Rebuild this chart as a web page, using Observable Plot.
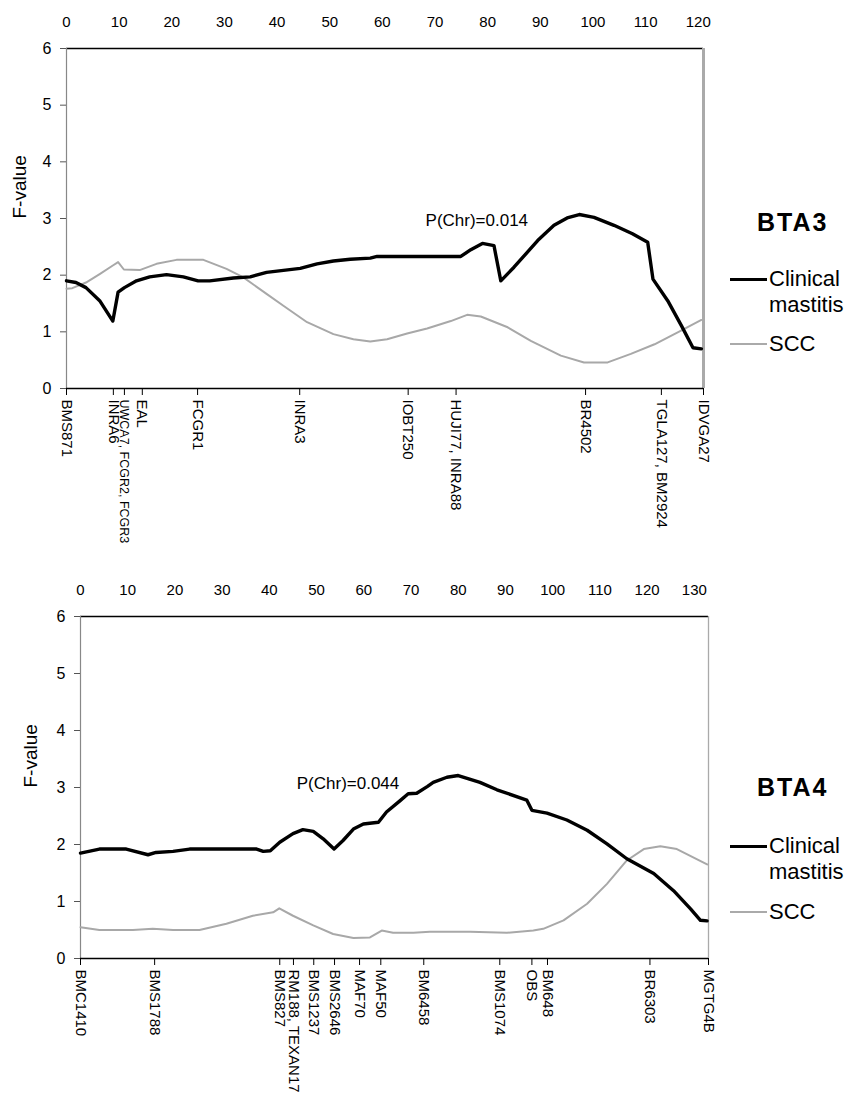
<!DOCTYPE html>
<html><head><meta charset="utf-8">
<script src="https://cdn.jsdelivr.net/npm/d3@7"></script>
<script src="https://cdn.jsdelivr.net/npm/@observablehq/plot@0.6"></script>
<style>
body{margin:0;background:#fff;font-family:"Liberation Sans",Arial,sans-serif;}
#wrap{position:relative;width:855px;height:1105px;overflow:hidden;}
.panel{position:absolute;left:0;width:855px;}
.panel svg{overflow:visible;}
.lg{position:absolute;color:#000;white-space:nowrap;}
.bta{font-weight:bold;font-size:25px;line-height:30px;letter-spacing:2px;}
.lt{font-size:22px;line-height:26px;}
</style></head><body><div id="wrap"></div>
<script>
// ---------- BTA3 ----------
const bta3MarkerPos = [0, 8.9, 11.0, 14.4, 24.9, 44.3, 64.9, 74.0, 98.6, 113.0, 121.0];
const bta3MarkerNames = ["BMS871", "INRA6", "UWCA7, FCGR2, FCGR3", "EAL", "FCGR1", "INRA3", "IOBT250", "HUJI77, INRA88", "BR4502", "TGLA127, BM2924", "IDVGA27"];
const bta3TopTicks = [0, 10, 20, 30, 40, 50, 60, 70, 80, 90, 100, 110, 120];
const bta3Clinical = [[0,1.90],[1.8,1.87],[3.7,1.78],[6.3,1.55],[8.8,1.19],[9.8,1.70],[11.0,1.78],[13.3,1.90],[15.8,1.97],[19,2.01],[22.2,1.97],[25,1.90],[27.2,1.90],[31.7,1.95],[34.9,1.97],[38,2.05],[44.4,2.12],[47.6,2.20],[50.7,2.25],[53.9,2.28],[57.7,2.30],[59,2.33],[74.9,2.33],[76.8,2.45],[79,2.56],[81.2,2.52],[82.5,1.90],[85,2.14],[89.5,2.61],[92.6,2.88],[95.1,3.01],[97.4,3.07],[100.2,3.02],[104,2.88],[107.5,2.73],[110.4,2.58],[111.4,1.93],[114.2,1.55],[116.8,1.11],[119,0.72],[120.6,0.70]];
const bta3Scc = [[0,1.76],[1.1,1.77],[3.7,1.87],[6.3,2.02],[8.8,2.17],[9.8,2.23],[10.9,2.10],[13.9,2.09],[17.1,2.20],[20.9,2.27],[26,2.27],[30.4,2.11],[33.6,1.96],[38,1.67],[41.2,1.46],[45.7,1.17],[50.7,0.96],[54.5,0.87],[57.7,0.83],[60.9,0.87],[64.7,0.97],[68.5,1.06],[73,1.19],[76.1,1.30],[78.7,1.27],[83.8,1.08],[88.2,0.84],[93.9,0.58],[98.3,0.46],[102.8,0.46],[107.2,0.61],[111.7,0.78],[116.1,0.99],[120.6,1.21]];
const bta3Note = [{x: 68.2, y: 2.96, text: "P(Chr)=0.014"}];

// ---------- BTA4 ----------
const bta4MarkerPos = [0, 15.7, 42.2, 45.1, 49.4, 53.8, 59.1, 63.6, 72.7, 88.8, 95.6, 98.9, 120.6, 133];
const bta4MarkerNames = ["BMC1410", "BMS1788", "BMS827", "RM188, TEXAN17", "BMS1237", "BMS2646", "MAF70", "MAF50", "BM6458", "BMS1074", "OBS", "BM648", "BR6303", "MGTG4B"];
const bta4TopTicks = [0, 10, 20, 30, 40, 50, 60, 70, 80, 90, 100, 110, 120, 130];
const bta4Clinical = [[0,1.85],[4,1.92],[9.7,1.92],[14.3,1.82],[16,1.86],[19.6,1.88],[23.1,1.92],[37.3,1.92],[38.7,1.88],[40.2,1.89],[42.2,2.04],[45,2.19],[47.1,2.26],[49.3,2.23],[51.4,2.10],[53.7,1.92],[55.6,2.07],[57.8,2.27],[59.9,2.36],[63.1,2.39],[64.8,2.57],[67.7,2.77],[69.4,2.89],[71.2,2.90],[73.5,3.02],[74.7,3.09],[77.6,3.18],[80,3.21],[84.6,3.09],[88.2,2.96],[94.5,2.78],[95.6,2.60],[98.8,2.55],[103,2.43],[107.3,2.25],[111.5,2.01],[115.7,1.75],[121.4,1.49],[125.6,1.19],[129.2,0.87],[131.3,0.67],[132.7,0.66]];
const bta4Scc = [[0,0.55],[4,0.50],[11.1,0.50],[15.3,0.52],[19.6,0.50],[25.2,0.50],[30.9,0.61],[36.5,0.75],[40.8,0.81],[42.1,0.88],[45,0.75],[49.3,0.58],[53.5,0.43],[57.8,0.36],[61.3,0.37],[63.8,0.49],[66.2,0.45],[70.5,0.45],[74,0.47],[82.5,0.47],[90.3,0.45],[95.9,0.49],[98,0.52],[102.3,0.67],[107.3,0.96],[111.5,1.31],[115.7,1.72],[119.3,1.92],[122.8,1.97],[126.3,1.92],[132.7,1.65]];
const bta4Note = [{x: 45.8, y: 3.07, text: "P(Chr)=0.044"}];

const yTicks = [0, 1, 2, 3, 4, 5, 6];
const seriesNames = ["Clinical mastitis", "SCC"];

function toRows(arr) { return arr.map(([x, y]) => ({x, y})); }

function makeChart(o) {
  const nameOf = new Map(o.pos.map((p, i) => [p, o.names[i]]));
  return Plot.plot({
    width: 855,
    height: o.height,
    marginTop: 48,
    marginBottom: o.marginBottom,
    marginLeft: o.marginLeft,
    marginRight: o.marginRight,
    style: {fontFamily: '"Liberation Sans", Arial, sans-serif', fontSize: "15px", color: "#000", background: "#fff", overflow: "visible"},
    x: {domain: [0, o.xMax]},
    y: {domain: [0, 6]},
    marks: [
      Plot.ruleY([6], {stroke: "#000", strokeWidth: 1.3}),
      Plot.ruleX([0], {stroke: "#888", strokeWidth: 1.2}),
      Plot.ruleX([o.xMax], {stroke: "#aaa", strokeWidth: o.rightW}),
      Plot.axisX({anchor: "top", ticks: o.topTicks, tickSize: 0, tickPadding: 22, fontSize: 15, label: null}),
      Plot.axisX({anchor: "bottom", ticks: o.pos, tickFormat: d => nameOf.get(d), tickRotate: 90, tickSize: 7, tickPadding: 4,
        fontSize: d => (nameOf.get(d).length > 15 ? 12.5 : 15), label: null}),
      Plot.axisY({ticks: yTicks, tickFormat: "d", tickSize: 6, tickPadding: 9, fontSize: 16, stroke: "#555", label: null}),
      Plot.text(["F-value"], {frameAnchor: "left", rotate: -90, dx: o.labelDx, fontSize: 19}),
      Plot.line(toRows(o.scc), {x: "x", y: "y", stroke: "#a8a8a8", strokeWidth: 2}),
      Plot.line(toRows(o.clin), {x: "x", y: "y", stroke: "#000", strokeWidth: 3.4, strokeLinejoin: "round"}),
      Plot.ruleY([0], {stroke: "#000", strokeWidth: 1.3}),
      Plot.text(o.note, {x: "x", y: "y", text: "text", textAnchor: "start", fontSize: 17})
    ]
  });
}

const wrap = document.getElementById("wrap");

function addPanel(top, chart) {
  const d = document.createElement("div");
  d.className = "panel";
  d.style.top = top + "px";
  d.appendChild(chart);
  wrap.appendChild(d);
}

function addLegend(title, topTitle, yClin, ySCC) {
  const t = document.createElement("div");
  t.className = "lg bta";
  t.style.left = "757px"; t.style.top = topTitle + "px";
  t.textContent = title;
  wrap.appendChild(t);
  const l1 = document.createElement("div");
  l1.className = "lg";
  l1.style.cssText = `left:730px;top:${yClin - 1.5}px;width:37px;height:3px;background:#000;`;
  wrap.appendChild(l1);
  const c = document.createElement("div");
  c.className = "lg lt";
  c.style.left = "769px"; c.style.top = (yClin - 13) + "px";
  c.innerHTML = "Clinical<br>mastitis";
  wrap.appendChild(c);
  const l2 = document.createElement("div");
  l2.className = "lg";
  l2.style.cssText = `left:730px;top:${ySCC - 1}px;width:37px;height:2px;background:#aaa;`;
  wrap.appendChild(l2);
  const s = document.createElement("div");
  s.className = "lg lt";
  s.style.left = "769px"; s.style.top = (ySCC - 13) + "px";
  s.textContent = seriesNames[1];
  wrap.appendChild(s);
}

addPanel(568, makeChart({
  pos: bta4MarkerPos, names: bta4MarkerNames, topTicks: bta4TopTicks,
  clin: bta4Clinical, scc: bta4Scc, note: bta4Note,
  xMax: 133, height: 537, marginBottom: 147, marginLeft: 80, marginRight: 147, rightW: 1.3, labelDx: -50
}));
addPanel(0, makeChart({
  pos: bta3MarkerPos, names: bta3MarkerNames, topTicks: bta3TopTicks,
  clin: bta3Clinical, scc: bta3Scc, note: bta3Note,
  xMax: 121, height: 568, marginBottom: 180, marginLeft: 66, marginRight: 152, rightW: 3, labelDx: -47
}));
addLegend("BTA3", 207, 279, 344);
addLegend("BTA4", 772, 846, 912);
</script>
</body></html>
